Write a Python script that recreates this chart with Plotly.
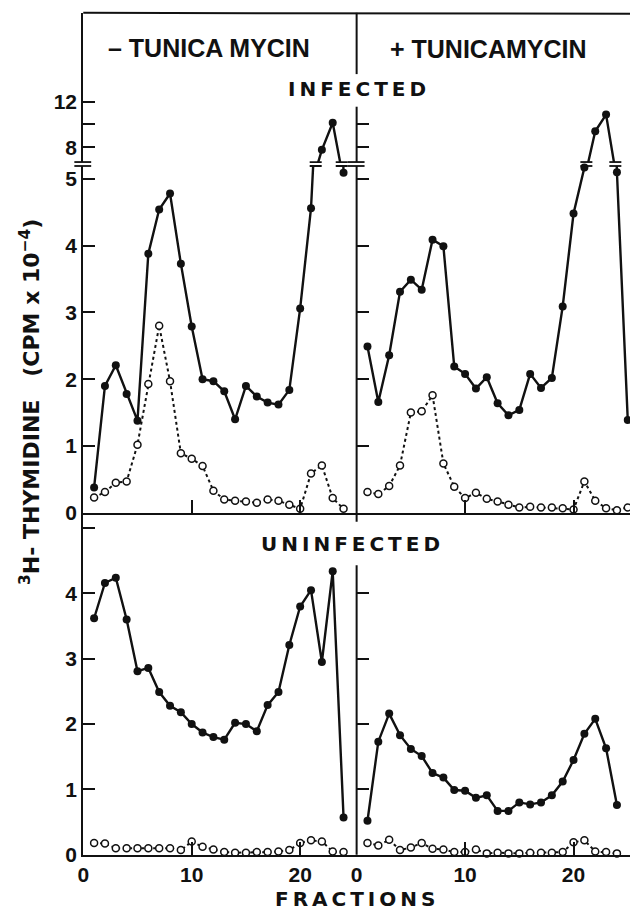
import numpy as np
import plotly.graph_objects as go

# ---------------- data ----------------
fractions_left = list(range(1, 25))
fractions_right_inf = list(range(1, 26))
fractions_right_uninf = list(range(1, 25))

inf_minus_filled = [0.38, 1.90, 2.21, 1.78, 1.38, 3.88, 4.54, 4.78, 3.73, 2.79, 2.00, 1.97,
                    1.82, 1.40, 1.90, 1.74, 1.65, 1.62, 1.84, 3.06, 4.56, 7.77, 10.15, 5.09]
inf_minus_open = [0.23, 0.31, 0.45, 0.47, 1.02, 1.93, 2.80, 1.97, 0.89, 0.81, 0.70, 0.33,
                  0.20, 0.18, 0.17, 0.15, 0.20, 0.18, 0.12, 0.06, 0.59, 0.71, 0.22, 0.06]
inf_plus_filled = [2.49, 1.66, 2.36, 3.31, 3.49, 3.34, 4.09, 3.99, 2.19, 2.08, 1.86, 2.03,
                   1.64, 1.46, 1.54, 2.08, 1.87, 2.02, 3.09, 4.48, 5.17, 9.40, 10.87, 5.10, 1.39]
inf_plus_open = [0.31, 0.28, 0.40, 0.71, 1.50, 1.52, 1.76, 0.74, 0.39, 0.22, 0.30, 0.21,
                 0.17, 0.12, 0.08, 0.09, 0.08, 0.08, 0.07, 0.05, 0.47, 0.18, 0.07, 0.04, 0.08]
uninf_minus_filled = [3.62, 4.16, 4.24, 3.60, 2.81, 2.86, 2.49, 2.28, 2.18, 2.00, 1.87, 1.80,
                      1.76, 2.02, 2.00, 1.89, 2.29, 2.49, 3.21, 3.80, 4.05, 2.95, 4.34, 0.57]
uninf_minus_open = [0.18, 0.17, 0.10, 0.10, 0.10, 0.10, 0.10, 0.10, 0.07, 0.20, 0.12, 0.08,
                    0.04, 0.03, 0.03, 0.04, 0.04, 0.05, 0.07, 0.18, 0.22, 0.20, 0.05, 0.04]
uninf_plus_filled = [0.52, 1.73, 2.16, 1.83, 1.62, 1.51, 1.25, 1.18, 0.99, 0.98, 0.87, 0.91,
                     0.67, 0.67, 0.80, 0.77, 0.80, 0.91, 1.12, 1.45, 1.85, 2.08, 1.63, 0.76]
uninf_plus_open = [0.18, 0.14, 0.23, 0.07, 0.11, 0.18, 0.09, 0.08, 0.04, 0.04, 0.08, 0.02,
                   0.03, 0.02, 0.02, 0.03, 0.03, 0.03, 0.04, 0.19, 0.22, 0.05, 0.04, 0.02]

x_tick_vals = [0, 10, 20]
x_tick_text = ["0", "10", "20"]
lower_tick_vals = [0, 1, 2, 3, 4, 5]
upper_tick_vals = [8, 12]
upper_minor_vals = [10]
uninf_tick_vals = [0, 1, 2, 3, 4]
uninf_minor_vals = [5]

# ---------------- layout geometry (pixels) ----------------
W, H = 630, 922
def X(px):
    return px / W
def Y(py):
    return 1 - py / H

left_x0, mid_x, right_x1 = 78, 354, 630
top_py = 13
brk_hi, brk_lo = 164, 168          # break gap in pixels
inf_zero_py = 519
uninf_zero_py = 865
inf_scale = 67.6                   # px per unit (lower infected)
up_scale = 11.5                    # px per unit (upper infected)
up_ref_py, up_ref_val = 149, 8
uninf_scale = 66.1
x_range = [0, (right_x1 - mid_x) / 10.95]

lower_top = (inf_zero_py - brk_lo) / inf_scale
upper_bot = up_ref_val - (brk_hi - up_ref_py) / up_scale
upper_top = up_ref_val + (up_ref_py - top_py) / up_scale
uninf_top = (uninf_zero_py - inf_zero_py) / uninf_scale

narrow = "Liberation Sans Narrow, Liberation Sans, Arial, sans-serif"
wide = "DejaVu Sans, Verdana, sans-serif"
ink = "#111111"

fig = go.Figure()

def add_series(x, y, xa, ya, filled, lo=None, hi=None):
    x = np.asarray(x, float)
    y = np.asarray(y, float)
    if filled:
        line = dict(color=ink, width=2.4)
        marker = dict(symbol="circle", size=8, color=ink, line=dict(width=0))
    else:
        line = dict(color=ink, width=2, dash="3px,3px")
        marker = dict(symbol="circle", size=7, color="white", line=dict(width=1.5, color=ink))
    fig.add_trace(go.Scatter(x=x, y=y, mode="lines", line=line, xaxis=xa, yaxis=ya,
                             hoverinfo="skip", showlegend=False))
    m = np.ones(len(y), bool)
    if lo is not None:
        m &= y >= lo
    if hi is not None:
        m &= y <= hi
    fig.add_trace(go.Scatter(x=x[m], y=y[m], mode="markers", marker=marker, xaxis=xa, yaxis=ya,
                             cliponaxis=False, showlegend=False, hoverinfo="x+y"))

# left infected (x2 with y2 lower, y1 upper)
add_series(fractions_left, inf_minus_filled, "x2", "y2", True, hi=lower_top)
add_series(fractions_left, inf_minus_filled, "x2", "y1", True, lo=upper_bot)
add_series(fractions_left, inf_minus_open, "x2", "y2", False)
# right infected (x4 with y4 lower, y3 upper)
add_series(fractions_right_inf, inf_plus_filled, "x4", "y4", True, hi=lower_top)
add_series(fractions_right_inf, inf_plus_filled, "x4", "y3", True, lo=upper_bot)
add_series(fractions_right_inf, inf_plus_open, "x4", "y4", False)
# uninfected
add_series(fractions_left, uninf_minus_filled, "x", "y5", True)
add_series(fractions_left, uninf_minus_open, "x", "y5", False)
add_series(fractions_right_uninf, uninf_plus_filled, "x3", "y6", True)
add_series(fractions_right_uninf, uninf_plus_open, "x3", "y6", False)

tickfont = dict(family=narrow, size=21, color=ink, weight="bold")
common_x = dict(range=x_range, showgrid=False, zeroline=False, ticks="inside", ticklen=13,
                tickwidth=2, tickcolor=ink, showline=True, linewidth=2, linecolor=ink,
                tickfont=tickfont, tickvals=x_tick_vals, ticktext=x_tick_text, fixedrange=True)
common_y = dict(showgrid=False, zeroline=False, ticks="inside", ticklen=12, tickwidth=2,
                tickcolor=ink, linewidth=2, linecolor=ink, tickfont=tickfont, fixedrange=True)
minor_y = lambda vals: dict(tickvals=vals, ticks="inside", ticklen=12, tickwidth=2, tickcolor=ink)

LD = [X(left_x0), X(mid_x)]
RD = [X(mid_x), X(right_x1)]

fig.update_layout(
    width=W, height=H, margin=dict(l=0, r=0, t=0, b=0),
    paper_bgcolor="white", plot_bgcolor="white", showlegend=False,
    xaxis=dict(common_x, domain=LD, anchor="y5"),
    xaxis2=dict(common_x, domain=LD, anchor="y2", showticklabels=False),
    xaxis3=dict(common_x, domain=RD, anchor="y6"),
    xaxis4=dict(common_x, domain=RD, anchor="y4", showticklabels=False),
    yaxis=dict(common_y, domain=[Y(brk_hi), Y(top_py)], anchor="x2",
               range=[upper_bot, upper_top], tickvals=upper_tick_vals,
               minor=minor_y(upper_minor_vals), showline=True),
    yaxis2=dict(common_y, domain=[Y(inf_zero_py), Y(brk_lo)], anchor="x2",
                range=[0, lower_top], tickvals=lower_tick_vals, showline=True),
    yaxis3=dict(common_y, domain=[Y(brk_hi), Y(top_py)], anchor="x4",
                range=[upper_bot, upper_top], tickvals=[8, 10],
                showticklabels=False, showline=False),
    yaxis4=dict(common_y, domain=[Y(inf_zero_py), Y(brk_lo)], anchor="x4",
                range=[0, lower_top], tickvals=[1, 2, 3, 4, 5],
                showticklabels=False, showline=False),
    yaxis5=dict(common_y, domain=[Y(uninf_zero_py), Y(inf_zero_py)], anchor="x",
                range=[0, uninf_top], tickvals=uninf_tick_vals,
                minor=minor_y(uninf_minor_vals), showline=True),
    yaxis6=dict(common_y, domain=[Y(uninf_zero_py), Y(inf_zero_py)], anchor="x3",
                range=[0, uninf_top], tickvals=[1, 2, 3, 4],
                showticklabels=False, showline=False),
)

shapes = []
def pline(x0, y0, x1, y1, w=2):
    shapes.append(dict(type="line", xref="paper", yref="paper", x0=X(x0), y0=Y(y0),
                       x1=X(x1), y1=Y(y1), line=dict(color=ink, width=w)))

# frame top and middle divider
pline(left_x0, top_py, right_x1, top_py + 1)
for a, b in [(top_py, 75), (108, brk_hi), (brk_lo, 528), (572, uninf_zero_py)]:
    pline(mid_x, a, mid_x, b)
# axis break marks
for cx in (left_x0, mid_x):
    for py in (brk_hi, brk_lo):
        pline(cx - 9, py, cx + 8, py, w=1.8)

# break marks on data lines where a segment crosses the gap
def crossing_marks(xs, ys, xref):
    xs = np.asarray(xs, float)
    ys = np.asarray(ys, float)
    for i in range(len(ys) - 1):
        a, b = ys[i], ys[i + 1]
        if (a <= lower_top and b >= upper_bot) or (b <= lower_top and a >= upper_bot):
            t1 = (lower_top - a) / (b - a)
            t2 = (upper_bot - a) / (b - a)
            xc = xs[i] + 0.5 * (t1 + t2) * (xs[i + 1] - xs[i])
            for py in (brk_hi, brk_lo):
                shapes.append(dict(type="line", xref=xref, yref="paper", xsizemode="pixel",
                                   xanchor=xc, x0=-6, x1=6, y0=Y(py), y1=Y(py),
                                   line=dict(color=ink, width=1.8)))

crossing_marks(fractions_left, inf_minus_filled, "x2")
crossing_marks(fractions_right_inf, inf_plus_filled, "x4")
fig.update_layout(shapes=shapes)

ts = "\u2009"
def spaced(s):
    return ts.join(list(s))

title_font = dict(family=narrow, size=25, weight="bold", color=ink)
label_font = dict(family=wide, size=20, weight="bold", color=ink)
ann = [
    dict(text="\u2013 TUNICA MYCIN", x=X(205), y=Y(49), font=title_font),
    dict(text="+ TUNICAMYCIN", x=X(487), y=Y(50), font=title_font),
    dict(text=spaced("INFECTED"), x=X(354), y=Y(90), font=label_font),
    dict(text=spaced("UNINFECTED"), x=X(348), y=Y(551), font=label_font),
    dict(text=spaced("FRACTIONS"), x=X(352), y=Y(910), font=label_font),
    dict(text="<sup>3</sup>H- THYMIDINE   (CPM x 10<sup>\u22124</sup>)", x=X(24), y=Y(407),
         textangle=-90, font=dict(family=wide, size=22, weight="bold", color=ink)),
]
for a in ann:
    a.update(xref="paper", yref="paper", showarrow=False, xanchor="center", yanchor="middle")
fig.update_layout(annotations=ann)

post = ("document.documentElement.style.margin='0';"
        "document.body.style.margin='0';"
        "document.documentElement.style.overflow='hidden';"
        "document.body.style.overflow='hidden';")
fig.write_html("out.html", config={"displayModeBar": False}, post_script=post)
